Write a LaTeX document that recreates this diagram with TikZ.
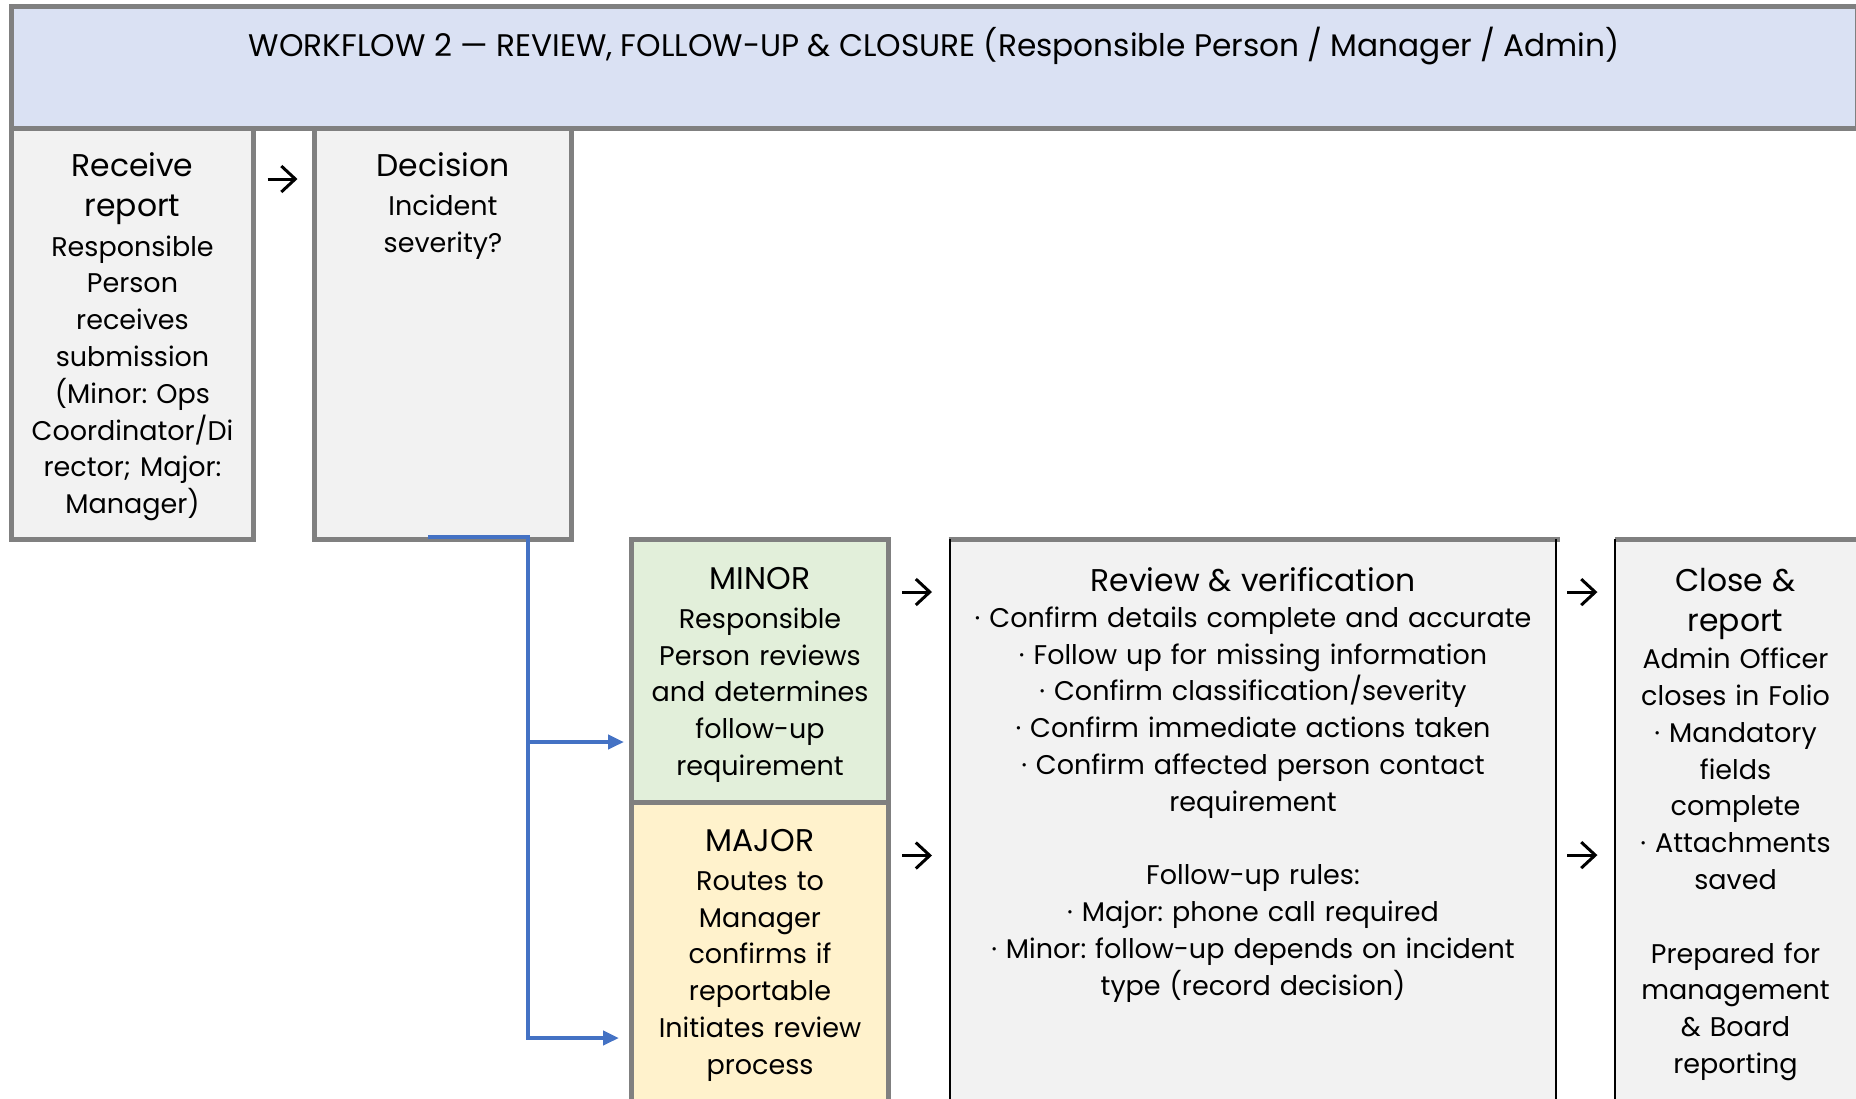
\documentclass[tikz,border=0pt]{standalone}
\usepackage{fontspec}
\setmainfont{Poppins}
\usetikzlibrary{arrows.meta, positioning, fit}

\definecolor{headblue}{HTML}{DAE1F3}
\definecolor{boxgray}{HTML}{F2F2F2}
\definecolor{edgegray}{HTML}{808080}
\definecolor{minorgreen}{HTML}{E2EFDA}
\definecolor{majoryellow}{HTML}{FFF2CC}
\definecolor{linkblue}{HTML}{4472C4}

\newcommand{\titlesize}{\fontsize{15.7}{20.1}\selectfont}
\newcommand{\bodysize}{\fontsize{13.5}{18.4}\selectfont}
\frenchspacing

\tikzset{
  panel/.style={draw=edgegray, line width=2.5pt, fill=boxgray, inner sep=0pt},
  openpanel/.style={fill=boxgray, inner sep=0pt},
  boxtext/.style={align=center, inner sep=0pt, anchor=base, text width=#1, font=\bodysize},
  nextarrow/.style={-{Straight Barb[length=7pt,width=13pt]}, line width=1.5pt},
  flow/.style={-{Triangle[length=8pt,width=7pt]}, draw=linkblue, line width=2pt},
}

\begin{document}
\begin{tikzpicture}[x=0.5pt, y=-0.5pt]
    \clip (0,0) rectangle (1856,1098);

    % header band
    \node[panel, fill=headblue, fit={(11.5,6.5) (1857,128.5)}] (head) {};
    \node[font=\fontsize{15.6}{19}\selectfont, anchor=base, inner sep=0pt] (headText) at ([yshift=-26pt]head.north)
        {WORKFLOW 2 — REVIEW, FOLLOW-UP \& CLOSURE (Responsible Person / Manager / Admin)};

    % top row
    \node[panel, fit={(11.5,128.5) (253.5,539.5)}] (recv) {};
    \node[panel, fit={(314.5,128.5) (571.5,539.5)}] (dec) {};

    \node[boxtext=200pt] (recvText) at ([yshift=-25.3pt]recv.north)
        {{\titlesize Receive\\report\par}\vspace{1.2pt}
         Responsible\\Person\\receives\\submission\\(Minor: Ops\\Coordinator/Di\\rector; Major:\\Manager)};
    \node[boxtext=200pt] (decText) at ([yshift=-25.3pt]dec.north)
        {{\titlesize Decision\par}\vspace{1.2pt}
         Incident\\severity?};

    % severity branches
    \node[panel, fill=minorgreen, fit={(631.5,539.5) (888.5,802.5)}] (minor) {};
    \node[panel, fill=majoryellow, fit={(631.5,802.5) (888.5,1110)}] (major) {};

    \node[boxtext=200pt] (minorText) at ([yshift=-26pt]minor.north)
        {{\titlesize MINOR\par}\vspace{1.2pt}
         Responsible\\Person reviews\\and determines\\follow-up\\requirement};
    \node[boxtext=200pt] (majorText) at ([yshift=-25.5pt]major.north)
        {{\titlesize MAJOR\par}\vspace{1.2pt}
         Routes to\\Manager\\confirms if\\reportable\\Initiates review\\process};

    % review and closing columns
    \node[openpanel, fit={(950,539.5) (1556,1110)}] (review) {};
    \draw[edgegray, line width=2.5pt] ([xshift=-0.5pt]review.north west) -- ([xshift=2pt]review.north east);
    \draw[line width=1pt] (review.north west) -- (review.south west)
        (review.north east) -- (review.south east);

    \node[openpanel, fit={(1615,539.5) (1856,1110)}] (close) {};
    \draw[edgegray, line width=2.5pt] (close.north west) -- (close.north east);
    \draw[line width=1pt] (close.north west) -- (close.south west);

    \node[boxtext=320pt] (reviewText) at ([yshift=-26pt]review.north)
        {{\titlesize Review \& verification\par}\vspace{-0.3pt}
         · Confirm details complete and accurate\\
         · Follow up for missing information\\
         · Confirm classification/severity\\
         · Confirm immediate actions taken\\
         · Confirm affected person contact\\
         requirement\\[18.4pt]
         Follow-up rules:\\
         · Major: phone call required\\
         · Minor: follow-up depends on incident\\
         type (record decision)};
    \node[boxtext=200pt] (closeText) at ([yshift=-26pt]close.north)
        {{\titlesize Close \&\\report\par}\vspace{0.3pt}
         Admin Officer\\closes in Folio\\· Mandatory\\fields\\complete\\· Attachments\\saved\\[18.4pt]
         Prepared for\\management\\\& Board\\reporting};

    % step arrows
    \draw[nextarrow] ([shift={(11.5,53)}]recv.north east) -- ++(30,0);
    \draw[nextarrow] ([shift={(11,55)}]minor.north east) -- ++(30,0);
    \draw[nextarrow] ([shift={(11,55.5)}]major.north east) -- ++(30,0);
    \draw[nextarrow] ([shift={(11,53)}]review.north east) -- ++(30,0);
    \draw[nextarrow] ([shift={(11,316)}]review.north east) -- ++(30,0);

    % decision split
    \coordinate (fork) at (528,537);
    \coordinate (minorIn) at (624,742);
    \coordinate (majorIn) at (619,1038);
    \draw[flow] ([xshift=-50pt]fork) -- (fork) |- (minorIn);
    \draw[flow] (fork) |- (majorIn);
\end{tikzpicture}
\end{document}
